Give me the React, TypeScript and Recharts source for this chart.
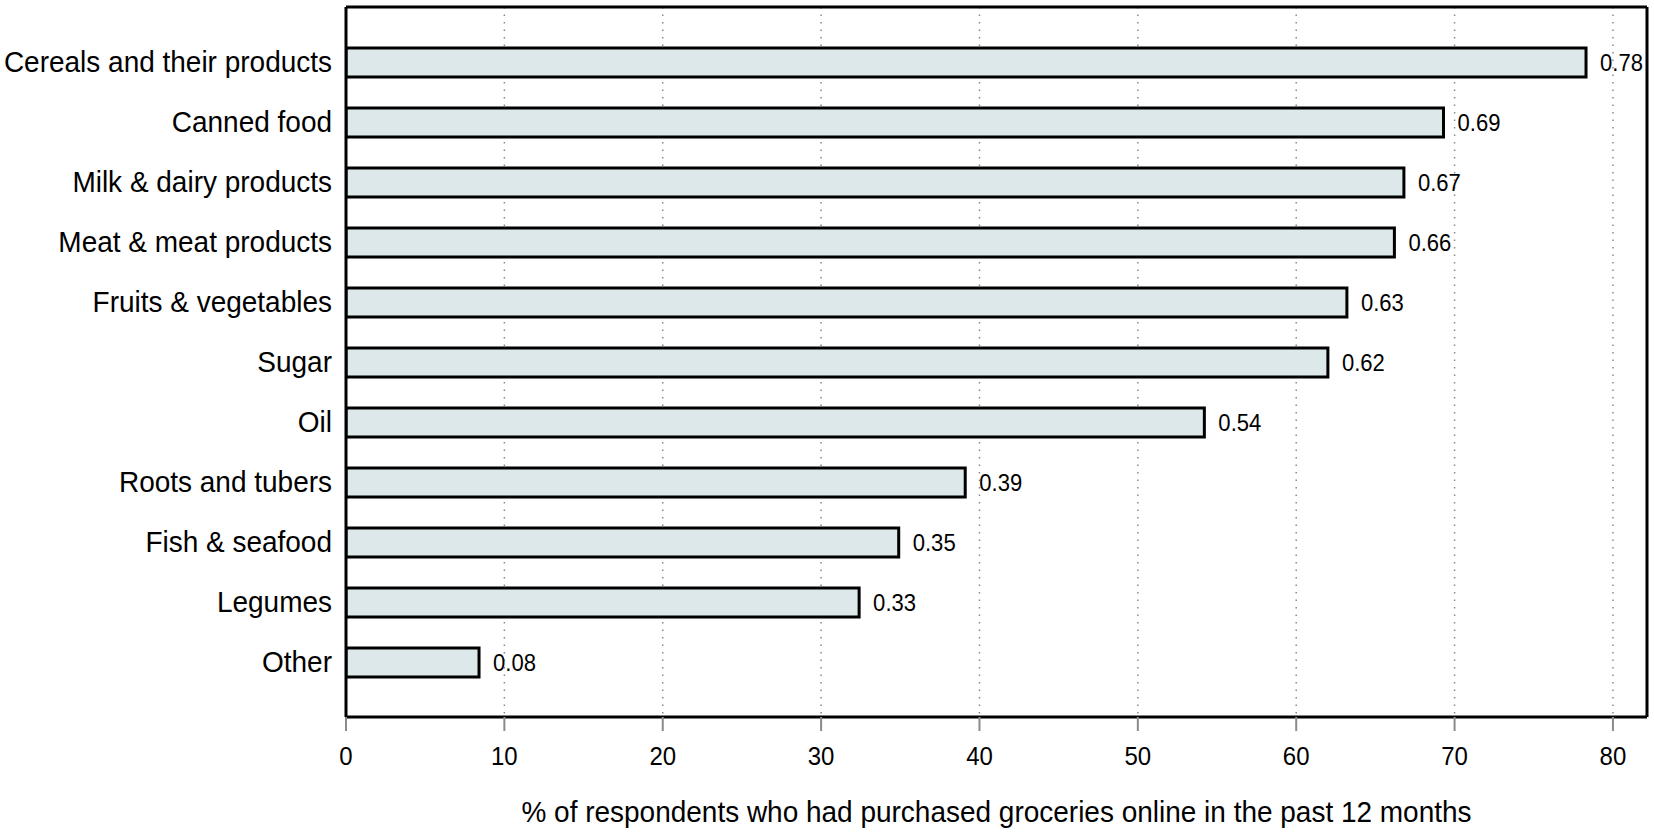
import { BarChart, Bar, XAxis, YAxis, CartesianGrid, LabelList } from 'recharts';

const categories = [
  'Cereals and their products',
  'Canned food',
  'Milk & dairy products',
  'Meat & meat products',
  'Fruits & vegetables',
  'Sugar',
  'Oil',
  'Roots and tubers',
  'Fish & seafood',
  'Legumes',
  'Other',
];
const shares = [78.3, 69.3, 66.8, 66.2, 63.2, 62.0, 54.2, 39.1, 34.9, 32.4, 8.4];
const valueLabels = ['0.78', '0.69', '0.67', '0.66', '0.63', '0.62', '0.54', '0.39', '0.35', '0.33', '0.08'];
const xTicks = [0, 10, 20, 30, 40, 50, 60, 70, 80];
const xTitle = '% of respondents who had purchased groceries online in the past 12 months';

const data = categories.map((name, i) => ({ name, share: shares[i], label: valueLabels[i] }));

const font = '"Liberation Sans", Arial, sans-serif';
const xMax = 82.15;

// narrow-ish text, the original uses a slightly condensed sans
function NarrowText({ x, y, anchor, dy, size, sx, children }: any) {
  return (
    <g transform={`translate(${x},${y})`}>
      <text
        transform={`scale(${sx},1)`}
        x={0}
        y={0}
        dy={dy}
        textAnchor={anchor}
        fontSize={size}
        fontFamily={font}
        fill="#000"
      >
        {children}
      </text>
    </g>
  );
}

const CategoryTick = (props: any) => (
  <NarrowText x={props.x} y={props.y} anchor="end" dy="0.355em" size={29} sx={0.965}>
    {props.payload.value}
  </NarrowText>
);

const ValueTick = (props: any) => (
  <NarrowText x={props.x} y={props.y} anchor="middle" dy="0.71em" size={25} sx={0.96}>
    {props.payload.value}
  </NarrowText>
);

const BarValue = (props: any) => (
  <NarrowText
    x={props.x + props.width + 14}
    y={props.y + props.height / 2}
    anchor="start"
    dy="0.355em"
    size={24}
    sx={0.92}
  >
    {props.value}
  </NarrowText>
);

const AxisTitle = (props: any) => {
  const vb = props.viewBox;
  return (
    <NarrowText x={vb.x + vb.width / 2} y={vb.y + vb.height - 15} anchor="middle" dy={0} size={29} sx={0.965}>
      {xTitle}
    </NarrowText>
  );
};

const frameLine = { stroke: '#000', strokeWidth: 3 };

export default function App() {
  return (
    <div style={{ width: 1654, height: 837, background: '#fff' }}>
      <style>{`body{margin:0}`}</style>
      <BarChart
        width={1654}
        height={837}
        data={data}
        layout="vertical"
        margin={{ top: 6, right: 6, bottom: 0, left: 0 }}
      >
        <CartesianGrid horizontal={false} stroke="#8a8a8a" strokeWidth={1.5} strokeDasharray="1.5 6" />
        <XAxis
          type="number"
          domain={[0, xMax]}
          ticks={xTicks}
          allowDataOverflow
          height={120}
          axisLine={frameLine}
          tickLine={{ stroke: '#8a8a8a', strokeWidth: 2 }}
          tickSize={14}
          tickMargin={16}
          tick={ValueTick}
          label={<AxisTitle />}
        />
        <XAxis
          xAxisId="top"
          orientation="top"
          type="number"
          domain={[0, xMax]}
          ticks={xTicks}
          allowDataOverflow
          height={1}
          tick={false}
          tickLine={false}
          axisLine={frameLine}
        />
        <YAxis
          type="category"
          dataKey="name"
          width={346}
          axisLine={frameLine}
          tickLine={false}
          tickSize={0}
          tickMargin={14}
          padding={{ top: 25, bottom: 25 }}
          tick={CategoryTick}
          interval={0}
        />
        <YAxis
          yAxisId="right"
          orientation="right"
          type="category"
          dataKey="name"
          width={1}
          tick={false}
          tickLine={false}
          axisLine={frameLine}
        />
        <Bar dataKey="share" fill="#dde8eb" stroke="#000" strokeWidth={3} barSize={29} isAnimationActive={false}>
          <LabelList dataKey="label" content={BarValue} />
        </Bar>
      </BarChart>
    </div>
  );
}
